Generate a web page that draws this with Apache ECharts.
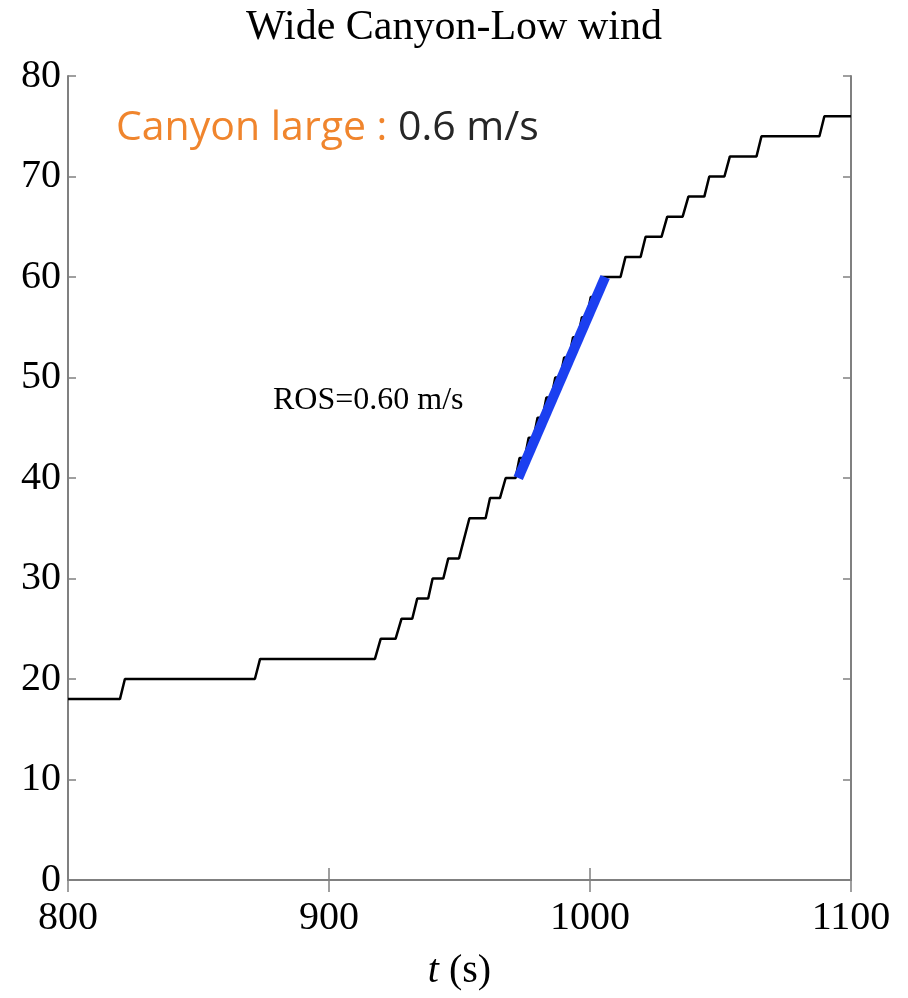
<!DOCTYPE html>
<html>
<head>
<meta charset="utf-8">
<script src="https://cdn.jsdelivr.net/npm/echarts@6/dist/echarts.min.js"></script>
<style>
  html, body { margin: 0; padding: 0; background: #fff; }
  #chart { width: 908px; height: 998px; }
</style>
</head>
<body>
<div id="chart"></div>
<script>
// fire front position vs time
let timeS = [800, 819.9, 821.8, 871.6, 873.6, 917.6, 919.8, 925.5, 927.8, 931.9,
    933.8, 938.0, 939.7, 943.8, 945.7, 949.8, 953.8, 960.0, 961.7, 965.5,
    967.7, 971.5, 973.0, 975.0, 976.5, 978.4, 979.9, 981.8, 983.3, 985.2,
    986.7, 988.6, 990.1, 992.0, 993.5, 995.4, 996.9, 998.8, 1000.3, 1002.5,
    1004.5, 1011.7, 1013.6, 1019.4, 1021.3, 1027.4, 1029.6, 1035.5, 1037.7, 1043.8,
    1045.7, 1051.5, 1053.6, 1063.8, 1065.7, 1087.9, 1089.8, 1100];
let position = [18, 18, 20, 20, 22, 22, 24, 24, 26, 26,
    28, 28, 30, 30, 32, 32, 36, 36, 38, 38,
    40, 40, 42, 42, 44, 44, 46, 46, 48, 48,
    50, 50, 52, 52, 54, 54, 56, 56, 58, 58,
    60, 60, 62, 62, 64, 64, 66, 66, 68, 68,
    70, 70, 72, 72, 74, 74, 76, 76];
// fitted ROS segment
let fitTime = [972.5, 1005.8];
let fitPos = [40, 60];

let serif = 'Liberation Serif';
let frame = '#808080';

let stepData = [];
for (let i = 0; i < timeS.length; i++) {
    stepData.push([timeS[i], position[i]]);
}
let fitData = [];
for (let i = 0; i < fitTime.length; i++) {
    fitData.push([fitTime[i], fitPos[i]]);
}

let option = {
    animation: false,
    backgroundColor: '#fff',
    title: {
        text: 'Wide Canyon-Low wind',
        left: 'center',
        top: 2,
        textStyle: { fontFamily: serif, fontSize: 42, fontWeight: 'normal', color: '#000' }
    },
    grid: { left: 68, right: 57, top: 76, bottom: 118 },
    xAxis: [{
        type: 'value',
        min: 800, max: 1100, interval: 100,
        position: 'bottom',
        axisLine: { lineStyle: { color: frame, width: 2 } },
        axisTick: { inside: true, length: 12, lineStyle: { color: frame, width: 1.5 } },
        axisLabel: {
            fontFamily: serif, fontSize: 40, color: '#000', margin: 18,
            formatter: function (v) { return String(v); }
        },
        splitLine: { show: false },
        name: '{i|t} (s)',
        nameLocation: 'middle',
        nameGap: 71,
        nameTextStyle: {
            fontFamily: serif, fontSize: 40, color: '#000',
            rich: { i: { fontFamily: serif, fontSize: 40, fontStyle: 'italic', color: '#000' } }
        }
    }, {
        type: 'value',
        min: 800, max: 1100, interval: 100,
        position: 'top',
        axisLine: { lineStyle: { color: frame, width: 2 } },
        axisTick: { inside: true, length: 12, lineStyle: { color: frame, width: 1.5 } },
        axisLabel: { show: false },
        splitLine: { show: false }
    }],
    yAxis: [{
        type: 'value',
        min: 0, max: 80, interval: 10,
        position: 'left',
        axisLine: { show: true, lineStyle: { color: frame, width: 2 } },
        axisTick: { show: true, inside: true, length: 8, lineStyle: { color: frame, width: 1.5 } },
        axisLabel: { fontFamily: serif, fontSize: 40, color: '#000', margin: 7 },
        splitLine: { show: false }
    }, {
        type: 'value',
        min: 0, max: 80, interval: 10,
        position: 'right',
        axisLine: { show: true, lineStyle: { color: frame, width: 2 } },
        axisTick: { show: true, inside: true, length: 8, lineStyle: { color: frame, width: 1.5 } },
        axisLabel: { show: false },
        splitLine: { show: false }
    }],
    graphic: [{
        type: 'text',
        left: 116,
        top: 108,
        style: {
            text: '{o|Canyon large : }{k|0.6 m/s}',
            rich: {
                o: { fontFamily: 'Open Sans', fontSize: 41, fill: '#f0852d' },
                k: { fontFamily: 'Open Sans', fontSize: 41, fill: '#262626' }
            }
        }
    }, {
        type: 'text',
        left: 273,
        top: 385,
        style: {
            text: 'ROS=0.60 m/s',
            fontFamily: serif,
            fontSize: 32,
            fill: '#000'
        }
    }],
    series: [{
        name: 'position',
        type: 'line',
        data: stepData,
        showSymbol: false,
        lineStyle: { color: '#000', width: 2.5 },
        z: 2
    }, {
        name: 'ROS fit',
        type: 'line',
        data: fitData,
        showSymbol: false,
        lineStyle: { color: '#1b3ff0', width: 10, cap: 'butt' },
        z: 3
    }]
};

let myChart = echarts.init(document.getElementById('chart'));
myChart.setOption(option);
</script>
</body>
</html>
